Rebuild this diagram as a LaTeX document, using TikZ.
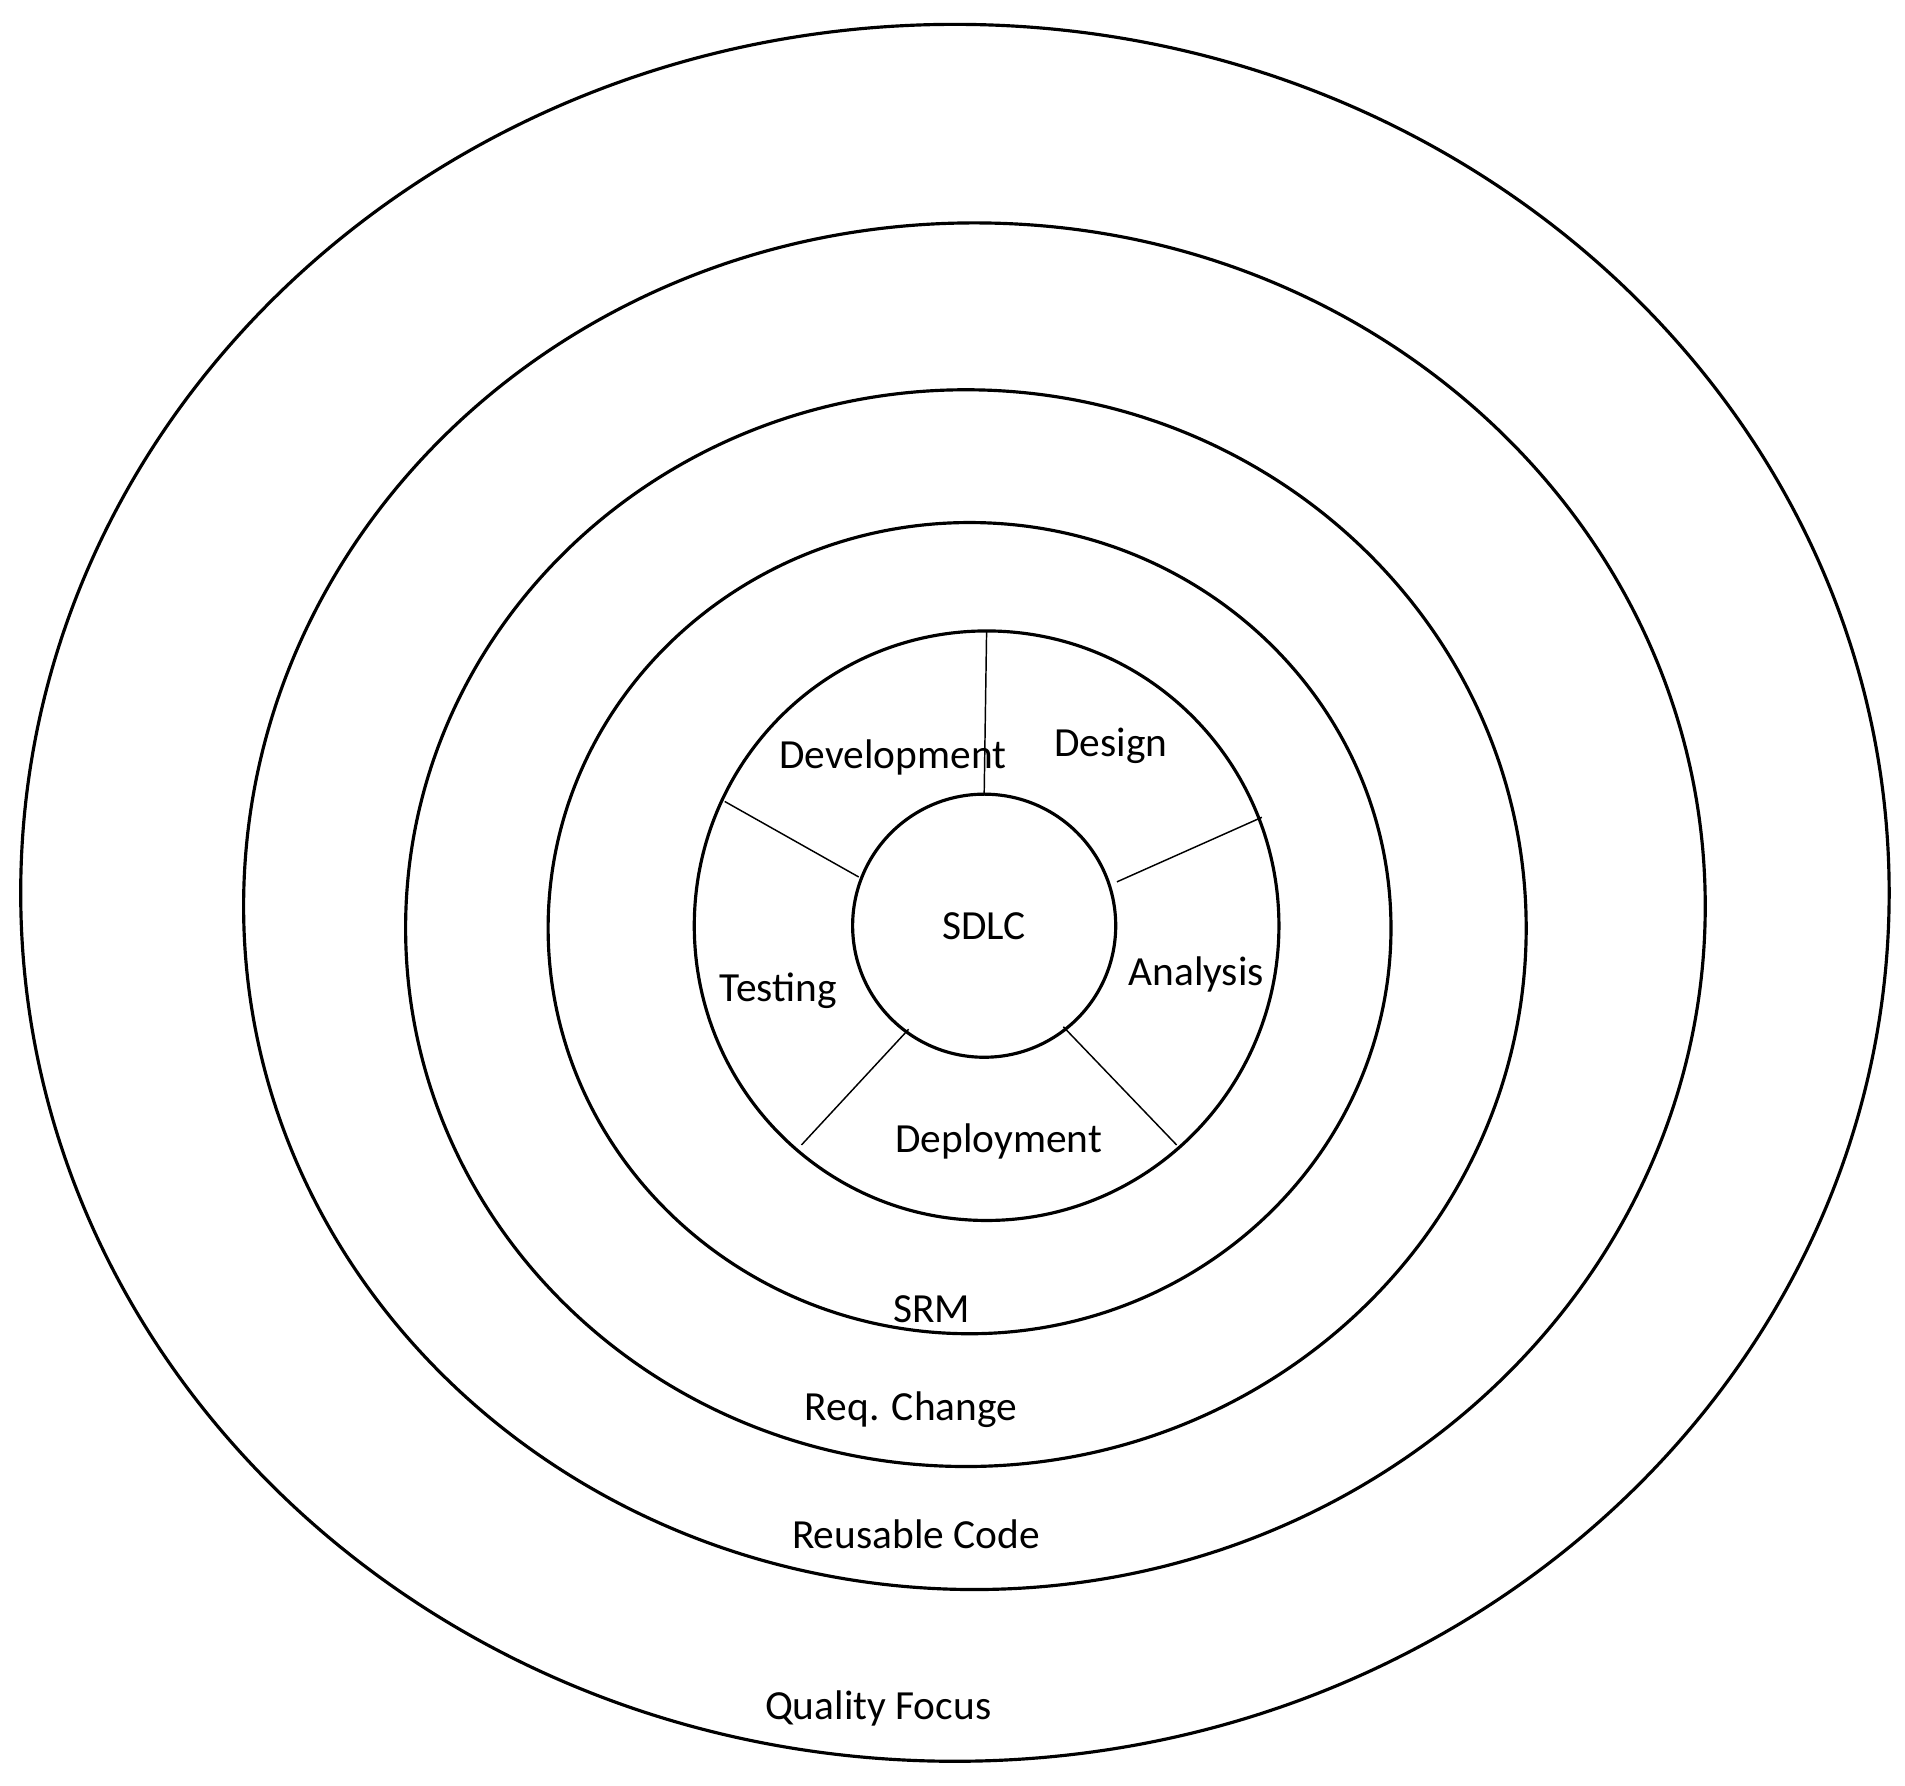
\documentclass[tikz,border=0pt]{standalone}
\usepackage{fontspec}
\setmainfont{Carlito}
\begin{document}
\begin{tikzpicture}[x=1pt,y=-1pt,
  ring/.style={draw,line width=2.6pt},
  spoke/.style={draw,line width=1.2pt},
  lbl/.style={font=\fontsize{34}{40}\selectfont,inner sep=0pt}]
\useasboundingbox (0,0) rectangle (1564,1466);
\draw[ring] (784,733) ellipse [x radius=767,y radius=713];
\draw[ring] (800,744) ellipse [x radius=600,y radius=561];
\draw[ring] (793,762) ellipse [x radius=460,y radius=442];
\draw[ring] (796,762) ellipse [x radius=346,y radius=333];
\draw[ring] (810,760) ellipse [x radius=240,y radius=242];
\draw[ring] (808,760) circle [radius=108];
\coordinate (a1) at (810,518); \coordinate (b1) at (808,652);
\coordinate (a2) at (1036,671); \coordinate (b2) at (917,724);
\coordinate (a3) at (966,940); \coordinate (b3) at (873,843);
\coordinate (a4) at (658,940); \coordinate (b4) at (746,845);
\coordinate (a5) at (595,658); \coordinate (b5) at (705,720);
\foreach \i in {1,...,5} \draw[spoke] (a\i) -- (b\i);
\node[lbl] (dev) at (733,622) {Development};
\node[lbl] (des) at (912,612) {Design};
\node[lbl] (ana) at (982,800) {Analysis};
\node[lbl] (dep) at (820,937) {Deployment};
\node[lbl] (tst) at (639,813) {Testing};
\node[lbl] (sdlc) at (808,760) {SDLC};
\node[lbl] (srm) at (765,1075) {SRM};
\node[lbl] (req) at (748,1157) {Req. Change};
\node[lbl] (reu) at (752,1260) {Reusable Code};
\node[lbl] (qf) at (721,1403) {Quality Focus};
\end{tikzpicture}
\end{document}
